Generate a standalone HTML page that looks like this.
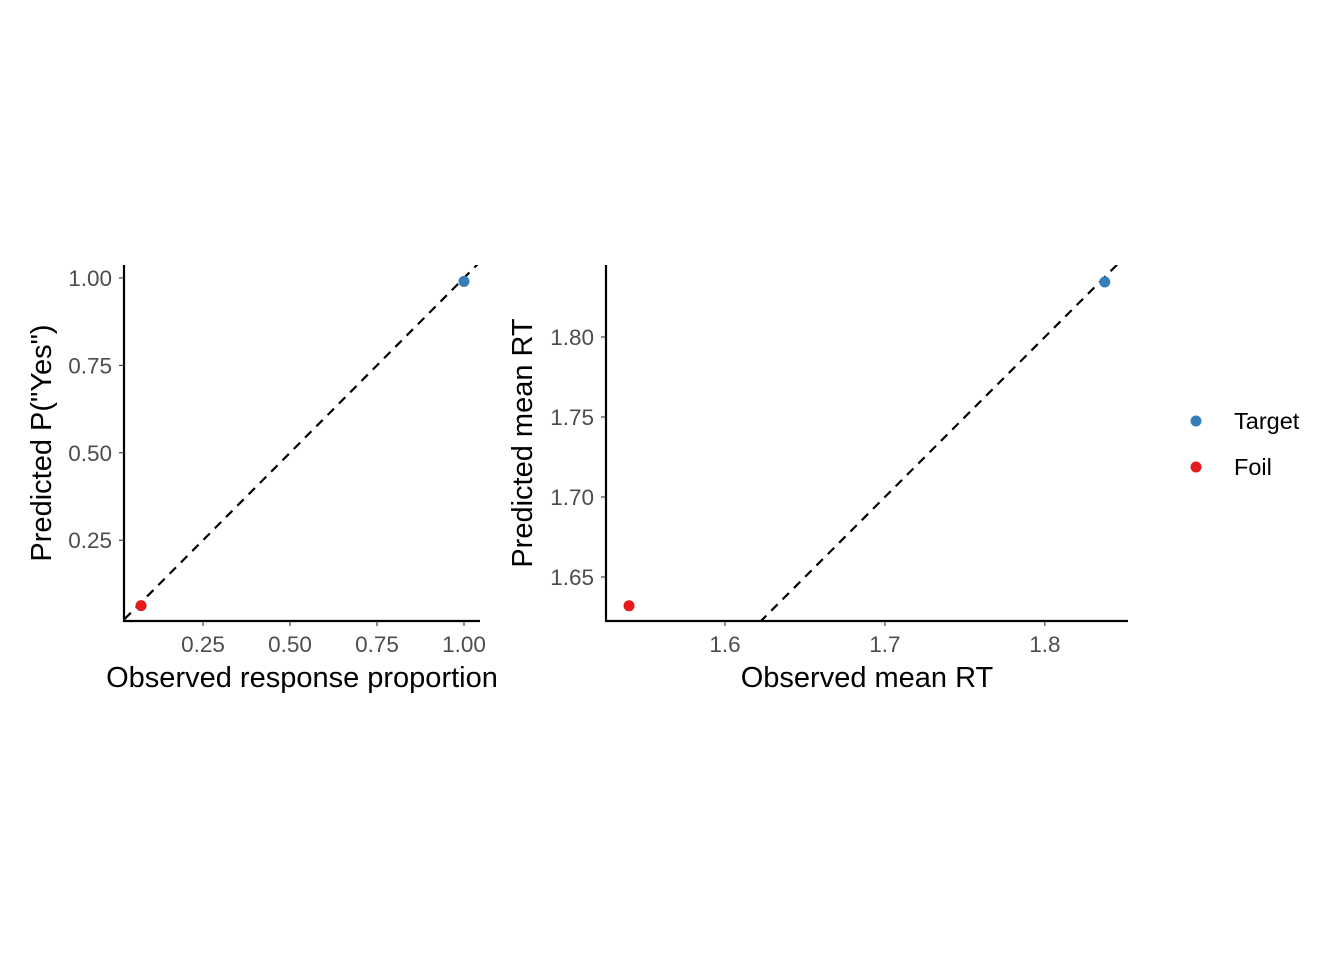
<!DOCTYPE html>
<html><head><meta charset="utf-8"><style>
html,body{margin:0;background:#fff;width:1344px;height:960px;overflow:hidden}
svg{display:block}
text{font-family:"Liberation Sans",sans-serif}
</style></head><body>
<svg width="1344" height="960" xmlns="http://www.w3.org/2000/svg">
<defs>
<clipPath id="c1"><rect x="122" y="265" width="358" height="358"/></clipPath>
<clipPath id="c2"><rect x="606" y="265" width="522" height="356"/></clipPath>
<clipPath id="t1"><rect x="0" y="640" width="496" height="80"/></clipPath>
</defs>
<g id="p1"></g>
<g id="p2"></g>
<g>
<circle cx="1196" cy="421" r="5.5" fill="#377EB8"/>
<text x="1234" y="429" font-size="23.5" fill="#000">Target</text>
<circle cx="1196" cy="467" r="5.5" fill="#E41A1C"/>
<text x="1234" y="475" font-size="23.5" fill="#000">Foil</text>
</g>
</svg>
<script>
const categories = ["Target","Foil"];
const colors = ["#377EB8","#E41A1C"];
const obsProp = [1.00, 0.072];
const predProp = [0.99, 0.063];
const obsRT = [1.8375, 1.540];
const predRT = [1.8344, 1.632];
const xTicks1 = ["0.25","0.50","0.75","1.00"];
const yTicks1 = ["0.25","0.50","0.75","1.00"];
const xTicks2 = ["1.6","1.7","1.8"];
const yTicks2 = ["1.65","1.70","1.75","1.80"];
const NS="http://www.w3.org/2000/svg";
function mk(p,tag,a){const e=document.createElementNS(NS,tag);for(const k in a)e.setAttribute(k,a[k]);p.appendChild(e);return e;}
function panel(g,cfg){
  const sx=v=>cfg.x0+(v-cfg.xmin)/(cfg.xmax-cfg.xmin)*(cfg.x1-cfg.x0);
  const sy=v=>cfg.y1-(v-cfg.ymin)/(cfg.ymax-cfg.ymin)*(cfg.y1-cfg.y0);
  const lo=Math.min(cfg.xmin,cfg.ymin)-1, hi=Math.max(cfg.xmax,cfg.ymax)+1;
  const d=mk(g,'line',{x1:sx(lo),y1:sy(lo),x2:sx(hi),y2:sy(hi),stroke:'#000','stroke-width':2.2,'stroke-dasharray':'9 7','clip-path':cfg.clip});
  
  
  const ax=mk(g,'path',{d:`M${cfg.x0} ${cfg.y0}V${cfg.y1}H${cfg.x1}`,fill:'none',stroke:'#000','stroke-width':2.2});
  
  
  cfg.xt.forEach(t=>{const x=sx(+t);
    mk(g,'line',{x1:x,x2:x,y1:cfg.y1,y2:cfg.y1+5,stroke:'#333','stroke-width':1.1});
    const e=mk(g,'text',{x:x,y:cfg.y1+31,'text-anchor':'middle','font-size':22.5,fill:'#4d4d4d'});e.textContent=t;
    
    });
  cfg.yt.forEach(t=>{const y=sy(+t);
    mk(g,'line',{x1:cfg.x0-5,x2:cfg.x0,y1:y,y2:y,stroke:'#333','stroke-width':1.1});
    const e=mk(g,'text',{x:cfg.x0-12,y:y+8,'text-anchor':'end','font-size':22.5,fill:'#4d4d4d'});e.textContent=t;
    
    });
  cfg.xs.forEach((v,i)=>{const c=mk(g,'circle',{cx:sx(v),cy:sy(cfg.ys[i]),r:5.5,fill:colors[i]});
    
    });
  const xt=mk(g,'text',{x:cfg.xlx,y:687,'text-anchor':'middle','font-size':29,fill:'#000'});xt.textContent=cfg.xl;
  if(cfg.tclip) xt.setAttribute('clip-path',cfg.tclip);
  
  
  const yt=mk(g,'text',{x:0,y:0,'text-anchor':'middle','font-size':29,fill:'#000',transform:`translate(${cfg.ylx},${(cfg.y0+cfg.y1)/2}) rotate(-90)`});yt.textContent=cfg.yl;
  
  
}
panel(document.getElementById('p1'),{x0:124,x1:480,y0:265,y1:621,xmin:0.023,xmax:1.046,ymin:0.019,ymax:1.037,
 xt:xTicks1,yt:yTicks1,xs:obsProp,ys:predProp,clip:'url(#c1)',tclip:'url(#t1)',xl:'Observed response proportion',xlx:302,yl:'Predicted P("Yes")',ylx:51});
panel(document.getElementById('p2'),{x0:606,x1:1128,y0:265,y1:621,xmin:1.5256,xmax:1.852,ymin:1.6225,ymax:1.845,
 xt:xTicks2,yt:yTicks2,xs:obsRT,ys:predRT,clip:'url(#c2)',xl:'Observed mean RT',xlx:867,yl:'Predicted mean RT',ylx:532});
</script>
</body></html>
